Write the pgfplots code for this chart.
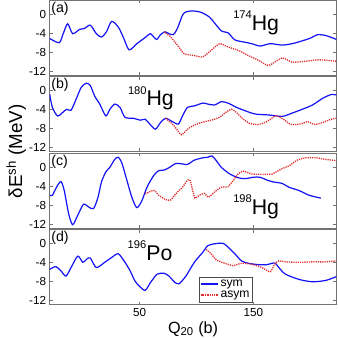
\documentclass[border=0pt]{standalone}
\usepackage{pgfplots}
\pgfplotsset{compat=1.18}
\usepgfplotslibrary{groupplots}
\usepackage{fontspec}
\setmainfont{Liberation Sans}
\definecolor{symblue}{RGB}{20,20,245}
\definecolor{asymred}{RGB}{225,45,45}
\newcommand{\iso}[2]{{\fontsize{21}{21}\selectfont\raisebox{1.05ex}{\fontsize{11}{11}\selectfont #1}#2}}
\begin{document}
\begin{tikzpicture}
\begin{groupplot}[
  group style={group size=1 by 4, vertical sep=1.5pt, xticklabels at=edge bottom},
  width=283pt, height=74pt, scale only axis,
  xmin=-29, xmax=223, ymin=-12.8, ymax=3,
  xtick={50,150}, ytick={-12,-8,-4,0},
  tick align=inside, major tick length=3pt,
  axis line style={black!55, line width=0.9pt},
  tick style={black!55, line width=0.6pt},
  tick label style={font=\fontsize{11.5}{11.5}\selectfont},
  /pgf/number format/assume math mode=true,
  every axis plot/.append style={line width=1.2pt},
  sym/.style={symblue, solid, smooth, tension=0.45},
  asym/.style={asymred, densely dotted, line width=1.3pt, smooth, tension=0.35},
]
% (a) 174Hg
\nextgroupplot
\addplot[sym] coordinates {(-29,-5.1) (-20.6,-6.0) (-17.1,-4.1) (-13.2,-2.0) (-8.8,-4.1) (-2.8,-3.2) (1.6,-3.0) (6.7,-2.3) (12.0,-4.1) (16.5,-4.8) (20.9,-3.7) (25.4,-1.5) (31.3,-2.7) (35.8,-4.9) (40.8,-7.5) (47.6,-6.2) (55.0,-4.9) (59.5,-4.1) (64.8,-5.3) (68.4,-4.3) (72.3,-3.7) (75.8,-4.1) (79.7,-4.3) (83.2,-3.0) (87.7,-0.2) (90.7,0.5) (96.6,0.7) (104.0,0.4) (111.4,-0.6) (117.4,-2.3) (122.4,-3.6) (127.7,-3.9) (133.7,-5.4) (142.6,-5.9) (148.5,-6.2) (155.9,-6.7) (164.8,-6.2) (175.2,-6.5) (184.1,-6.2) (193.0,-5.6) (200.4,-5.0) (206.4,-4.3) (213.8,-4.5) (223,-5.3)};
\addplot[asym] coordinates {(71.4,-3.7) (77.3,-4.8) (83.2,-6.5) (89.2,-8.3) (98.1,-8.7) (105.5,-9.0) (112.9,-7.6) (120.3,-6.2) (127.7,-6.9) (136.6,-7.6) (145.5,-8.7) (154.5,-9.7) (163.4,-10.8) (175.2,-9.2) (184.1,-10.1) (196.0,-9.9) (207.9,-9.6) (223,-9.9)};
\node[anchor=north west, inner sep=1.5pt, font=\fontsize{14}{14}\selectfont] at (rel axis cs:0,1) {(a)};
\node at (rel axis cs:0.72,0.70) {\iso{174}{Hg}};
% (b) 180Hg
\nextgroupplot
\addplot[sym] coordinates {(-29,-0.7) (-26.6,-3.5) (-22.1,-5.3) (-17.7,-4.6) (-14.1,-3.9) (-10.2,-4.1) (-5.8,-1.8) (-1.3,0.7) (3.1,1.6) (6.7,1.1) (10.5,-1.1) (15.0,-2.8) (20.3,-5.3) (23.9,-3.9) (28.3,-2.8) (32.8,-3.5) (37.2,-5.6) (44.7,-5.8) (50.6,-6.2) (55.0,-6.0) (58.9,-7.0) (63.9,-8.1) (68.4,-6.7) (72.8,-5.8) (78.8,-6.5) (84.1,-7.0) (87.7,-5.3) (92.1,-3.5) (98.1,-3.2) (105.5,-2.6) (109.9,-2.8) (115.9,-3.0) (121.8,-2.3) (127.7,-2.6) (135.2,-3.5) (142.6,-4.2) (151.5,-4.9) (163.4,-5.1) (175.2,-5.4) (184.1,-4.7) (193.0,-3.9) (201.9,-3.0) (210.8,-1.6) (218.2,-0.8) (223,-0.9)};
\addplot[asym] coordinates {(72.8,-5.8) (78.8,-7.0) (82.6,-8.1) (86.8,-9.3) (92.1,-8.1) (96.6,-7.4) (104.0,-6.7) (112.9,-6.2) (120.3,-5.6) (124.8,-4.7) (130.7,-3.9) (135.2,-4.6) (141.1,-6.0) (147.0,-6.9) (154.5,-7.1) (161.9,-6.5) (169.3,-5.3) (173.7,-5.6) (178.2,-6.3) (182.6,-7.1) (191.5,-7.0) (197.5,-6.5) (203.4,-7.1) (210.8,-6.7) (218.2,-6.0) (223,-5.8)};
\node[anchor=north west, inner sep=1.5pt, font=\fontsize{14}{14}\selectfont] at (rel axis cs:0,1) {(b)};
\node at (rel axis cs:0.353,0.71) {\iso{180}{Hg}};
% (c) 198Hg
\nextgroupplot
\addplot[sym] coordinates {(-29,-5.9) (-26.6,-5.9) (-23.0,-4.2) (-19.1,-3.0) (-16.2,-4.9) (-12.3,-9.8) (-8.8,-12.1) (-4.3,-10.1) (0.7,-7.8) (5.5,-8.4) (9.6,-8.7) (13.5,-6.3) (16.5,-3.1) (20.3,-1.0) (23.9,0.0) (28.3,1.7) (31.3,2.1) (34.3,1.0) (38.1,-2.1) (43.2,-6.3) (47.6,-8.5) (52.1,-7.0) (56.5,-4.2) (62.5,-1.7) (66.9,-0.7) (71.4,-0.6) (75.8,-0.1) (81.8,0.8) (87.7,0.7) (92.1,0.6) (98.1,1.5) (105.5,2.0) (109.9,2.1) (113.5,2.4) (117.4,1.4) (121.8,0.0) (129.2,-1.4) (136.6,-2.2) (142.6,-2.4) (150.0,-2.1) (155.9,-2.1) (161.9,-2.7) (167.8,-3.1) (175.2,-3.4) (181.2,-4.2) (190.1,-4.9) (199.0,-5.9) (209.3,-6.5)};
\addplot[asym] coordinates {(55.0,-5.6) (59.5,-5.1) (63.1,-4.9) (66.9,-5.9) (72.8,-6.8) (77.3,-6.9) (81.8,-5.6) (87.7,-4.2) (92.1,-2.7) (94.5,-2.8) (96.6,-4.9) (98.7,-6.5) (102.5,-5.9) (107.0,-5.5) (110.5,-6.3) (115.9,-5.2) (121.8,-4.2) (127.7,-4.1) (132.2,-2.8) (136.6,-1.4) (141.1,-0.8) (148.5,-1.4) (157.4,-1.5) (166.3,-1.4) (175.2,-0.3) (181.2,0.3) (188.6,1.5) (196.0,2.0) (204.9,2.0) (212.3,1.7) (223,1.4)};
\node[anchor=north west, inner sep=1.5pt, font=\fontsize{14}{14}\selectfont] at (rel axis cs:0,1) {(c)};
\node at (rel axis cs:0.72,0.28) {\iso{198}{Hg}};
% (d) 196Po
\nextgroupplot[xlabel={Q\textsubscript{20} (b)}, xlabel style={font=\fontsize{16}{16}\selectfont, yshift=2pt},
  legend style={at={(rel axis cs:0.52,0.03)}, anchor=south west, font=\fontsize{12}{12}\selectfont,
    draw=black!70, inner sep=1pt, row sep=-1pt, legend cell align=left},
  legend image post style={line width=1.2pt}]
\addplot[sym] coordinates {(-29,-5.4) (-23.6,-4.8) (-19.1,-5.7) (-14.7,-6.8) (-10.2,-5.0) (-4.3,-2.6) (0.1,-3.9) (3.7,-3.2) (6.7,-3.0) (12.0,-5.0) (19.4,-3.9) (25.4,-2.9) (31.3,-2.1) (37.2,-3.9) (41.7,-5.7) (46.1,-7.9) (50.6,-9.1) (55.0,-9.8) (59.5,-8.2) (65.4,-6.4) (71.4,-6.2) (75.8,-6.8) (80.9,-8.1) (84.7,-8.4) (90.7,-6.8) (98.1,-3.9) (105.5,-1.8) (109.9,-0.4) (115.9,0.0) (123.3,0.1) (127.7,-0.7) (133.7,-2.1) (139.6,-3.6) (145.5,-4.1) (154.5,-4.4) (161.9,-4.4) (166.3,-4.1) (169.3,-4.1) (172.3,-5.0) (178.2,-6.4) (190.1,-7.5) (201.9,-8.0) (213.8,-7.7) (223,-6.9)};
\addlegendentry{sym}
\addplot[asym] coordinates {(108.5,-1.2) (112.9,-2.1) (117.4,-3.4) (124.8,-4.1) (132.2,-4.6) (139.6,-4.1) (148.5,-4.3) (157.4,-5.0) (164.8,-5.9) (168.7,-4.3) (172.3,-3.6) (178.2,-3.8) (190.1,-3.9) (201.9,-3.8) (213.8,-3.8) (223,-3.6)};
\addlegendentry{asym}
\node[anchor=north west, inner sep=1.5pt, font=\fontsize{14}{14}\selectfont] at (rel axis cs:0,1) {(d)};
\node at (rel axis cs:0.35,0.72) {\iso{196}{Po}};
\end{groupplot}
\path (group c1r2.south west) ++(-33pt,0) node[rotate=90, font=\fontsize{18.5}{18.5}\selectfont] {δE\textsuperscript{sh} (MeV)};
\path (group c1r4.south west) ++(-49pt,-33pt) coordinate (sw);
\path (group c1r1.north east) ++(1pt,0) coordinate (ne);
\pgfresetboundingbox
\useasboundingbox (sw) rectangle (ne);
\end{tikzpicture}
\end{document}
